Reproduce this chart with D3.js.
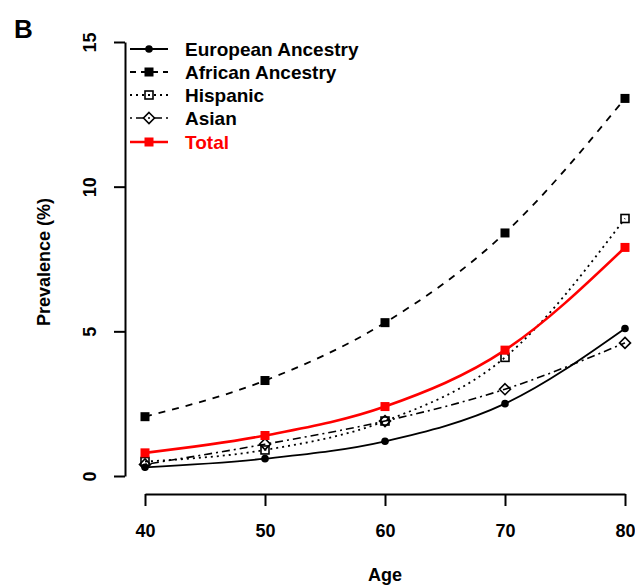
<!DOCTYPE html>
<html><head><meta charset="utf-8">
<script src="https://cdn.jsdelivr.net/npm/d3@7"></script>
<style>body{margin:0;background:#fff}svg{display:block}text{font-family:"Liberation Sans",Arial,sans-serif;font-weight:bold}</style>
</head><body><svg id="c" width="635" height="587"></svg>
<script>
const ages = [40, 50, 60, 70, 80];
const european = [0.3, 0.6, 1.2, 2.5, 5.1];
const african = [2.05, 3.3, 5.3, 8.4, 13.05];
const hispanic = [0.5, 0.9, 1.9, 4.1, 8.9];
const asian = [0.4, 1.1, 1.9, 3.0, 4.6];
const total = [0.8, 1.4, 2.4, 4.35, 7.9];
const seriesNames = ["European Ancestry", "African Ancestry", "Hispanic", "Asian", "Total"];
const yTicks = [0, 5, 10, 15];
const xTicks = [40, 50, 60, 70, 80];

const series = [
  {name: seriesNames[0], values: european, color: "#000", dash: null, width: 1.8, shape: "circle"},
  {name: seriesNames[1], values: african, color: "#000", dash: "7,7", width: 1.8, shape: "square"},
  {name: seriesNames[2], values: hispanic, color: "#000", dash: "2,4", width: 1.8, shape: "opensquare"},
  {name: seriesNames[3], values: asian, color: "#000", dash: "2,4,8,4", width: 1.6, shape: "diamond"},
  {name: seriesNames[4], values: total, color: "#f00", dash: null, width: 2.6, shape: "redsquare"}
];

const svg = d3.select("#c");
const x = d3.scaleLinear().domain([40, 80]).range([145, 625]);
const y = d3.scaleLinear().domain([0, 15]).range([476, 42]);
const FS = 18;

// axes
const yAxis = svg.append("g").attr("transform", "translate(125,0)")
  .call(d3.axisLeft(y).tickValues(yTicks).tickSize(11).tickSizeOuter(0));
yAxis.select(".domain").attr("stroke-width", 2);
yAxis.selectAll(".tick line").attr("stroke-width", 2);
yAxis.selectAll(".tick text").attr("font-size", FS).attr("fill", "#000")
  .attr("text-anchor", "middle").attr("dy", "0.35em")
  .attr("x", 0).attr("y", 0).attr("transform", "translate(-35,0) rotate(-90)");

const xAxis = svg.append("g").attr("transform", "translate(0,494)")
  .call(d3.axisBottom(x).tickValues(xTicks).tickSize(12).tickSizeOuter(0));
xAxis.select(".domain").attr("stroke-width", 2);
xAxis.selectAll(".tick line").attr("stroke-width", 2);
xAxis.selectAll(".tick text").attr("font-size", FS).attr("fill", "#000").attr("dy", "0.35em").attr("y", 37);

svg.append("text").attr("x", 385).attr("y", 581).attr("text-anchor", "middle").attr("font-size", FS).text("Age");
svg.append("text").attr("transform", "translate(50,262) rotate(-90)").attr("text-anchor", "middle").attr("font-size", FS).text("Prevalence (%)");
svg.append("text").attr("x", 14).attr("y", 38).attr("font-size", 26).text("B");

function drawMarker(g, shape, cx, cy, color) {
  if (shape === "circle") g.append("circle").attr("cx", cx).attr("cy", cy).attr("r", 3.8).attr("fill", color);
  else if (shape === "square" || shape === "redsquare") g.append("rect").attr("x", cx - 4.5).attr("y", cy - 4.5).attr("width", 9).attr("height", 9).attr("fill", color);
  else if (shape === "opensquare") g.append("rect").attr("x", cx - 4).attr("y", cy - 4).attr("width", 8).attr("height", 8).attr("fill", "none").attr("stroke", color).attr("stroke-width", 1.6);
  else if (shape === "diamond") g.append("path").attr("d", `M${cx},${cy-5.5}L${cx+5.5},${cy}L${cx},${cy+5.5}L${cx-5.5},${cy}Z`).attr("fill", "none").attr("stroke", color).attr("stroke-width", 1.6);
}

const line = d3.line().x((d, i) => x(ages[i])).y(d => y(d)).curve(d3.curveMonotoneX);
series.forEach(s => {
  const g = svg.append("g");
  g.append("path").attr("d", line(s.values)).attr("fill", "none").attr("stroke", s.color)
    .attr("stroke-width", s.width).attr("stroke-dasharray", s.dash);
  s.values.forEach((v, i) => drawMarker(g, s.shape, x(ages[i]), y(v), s.color));
});

// legend
const legY = [49, 72, 95, 118, 142];
series.forEach((s, i) => {
  const g = svg.append("g");
  g.append("line").attr("x1", 130).attr("x2", 168).attr("y1", legY[i]).attr("y2", legY[i])
    .attr("stroke", s.color).attr("stroke-width", s.width).attr("stroke-dasharray", s.dash ? (s.dash === "7,7" ? "6,5" : s.dash) : null);
  drawMarker(g, s.shape, 149, legY[i], s.color);
  g.append("text").attr("x", 185).attr("y", legY[i]).attr("dy", "0.35em").attr("font-size", 19)
    .attr("fill", s.color === "#f00" ? "#f00" : "#000").text(s.name);
});
</script></body></html>
